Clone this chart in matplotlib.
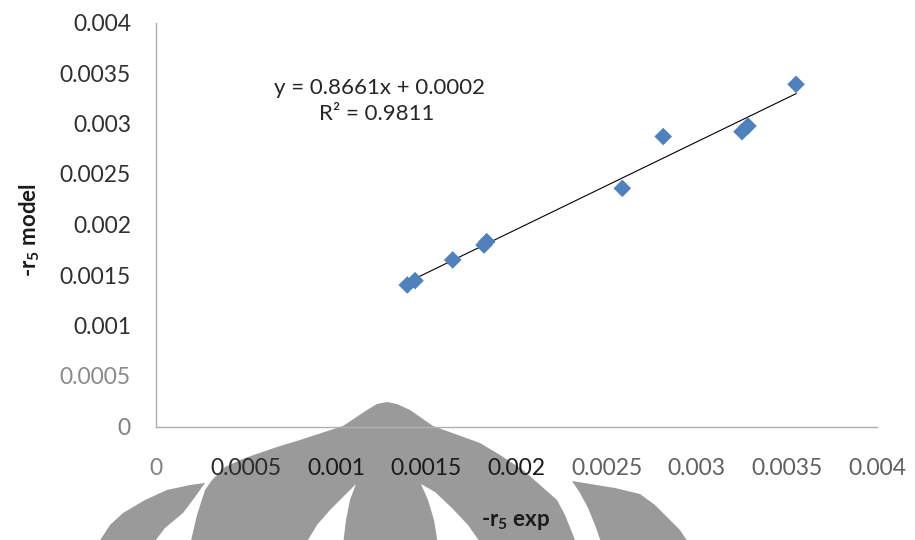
import numpy as np
import matplotlib
matplotlib.use("Agg")
import matplotlib.pyplot as plt
from matplotlib.patches import Polygon

plt.rcParams["font.family"] = ["Lato", "DejaVu Sans"]
plt.rcParams["mathtext.fontset"] = "custom"
plt.rcParams["mathtext.rm"] = "Lato"
plt.rcParams["mathtext.bf"] = "Lato:bold"

# Experimental vs. model rate of reaction 5
r5_exp = [0.001394, 0.001437, 0.001646, 0.001820, 0.001835,
          0.002587, 0.002814, 0.003251, 0.003284, 0.003551]
r5_model = [0.001401, 0.001444, 0.001649, 0.001797, 0.001830,
            0.002358, 0.002871, 0.002919, 0.002975, 0.003388]

# Linear trendline coefficients
slope = 0.8661
intercept = 0.00022
r_squared = 0.9811

x_ticks = [0, 0.0005, 0.001, 0.0015, 0.002, 0.0025, 0.003, 0.0035, 0.004]
x_tick_labels = ["0", "0.0005", "0.001", "0.0015", "0.002",
                 "0.0025", "0.003", "0.0035", "0.004"]
y_ticks = [0, 0.0005, 0.001, 0.0015, 0.002, 0.0025, 0.003, 0.0035, 0.004]
y_tick_labels = ["0", "0.0005", "0.001", "0.0015", "0.002",
                 "0.0025", "0.003", "0.0035", "0.004"]

W, H = 915, 540
fig = plt.figure(figsize=(W / 100, H / 100), dpi=100)


def px(pts):
    return [(x / W, 1 - y / H) for x, y in pts]


# Background emblem
emblem_gray = "#9a9a9a"
dome = [(190, 545), (197, 515), (205, 490), (212, 480), (225, 467), (245, 458),
        (277, 447), (300, 440), (343, 426), (367, 410), (377, 404), (387, 402),
        (397, 404), (410, 410), (433, 426), (480, 443), (500, 455), (523, 470),
        (540, 485), (557, 500), (565, 515), (577, 545)]
left_petal = [(97, 545), (110, 525), (123, 513), (145, 500), (167, 490),
              (190, 485), (205, 483), (195, 497), (183, 513), (165, 528), (152, 545)]
right_petal = [(572, 481), (590, 484), (615, 488), (640, 494), (655, 505),
               (667, 517), (680, 530), (690, 545), (602, 545), (595, 525),
               (588, 508), (580, 493)]
left_gap = [(356, 484), (345, 495), (330, 510), (317, 525), (305, 545),
            (343, 545), (346, 520), (350, 500)]
right_gap = [(421, 484), (428, 500), (434, 520), (438, 545), (482, 545),
             (468, 525), (452, 508), (435, 492)]
for shape in (dome, left_petal, right_petal):
    fig.add_artist(Polygon(px(shape), closed=True, transform=fig.transFigure,
                           facecolor=emblem_gray, edgecolor="none", zorder=-2))
for shape in (left_gap, right_gap):
    fig.add_artist(Polygon(px(shape), closed=True, transform=fig.transFigure,
                           facecolor="white", edgecolor="none", zorder=-1))

ax = fig.add_axes([156 / W, 1 - 426.5 / H, (877 - 156) / W, (426.5 - 22.5) / H])
ax.patch.set_alpha(0)

ax.scatter(r5_exp, r5_model, marker="D", s=80, color="#4F81BD",
           edgecolors="none", zorder=3)

x_fit = np.array([min(r5_exp), max(r5_exp)])
ax.plot(x_fit, slope * x_fit + intercept, color="black", lw=0.8, zorder=2)

ax.set_xlim(0, 0.004)
ax.set_ylim(0, 0.004)
ax.set_xticks(x_ticks, x_tick_labels)
ax.set_yticks(y_ticks, y_tick_labels)
ax.tick_params(axis="both", length=0, labelsize=16.5)
ax.tick_params(axis="x", pad=23)
ax.tick_params(axis="y", pad=18)

x_label_colors = ["#808080", "#2a2a2a", "#1a1a1a", "#1a1a1a", "#1a1a1a",
                  "#606060", "#606060", "#606060", "#606060"]
y_label_colors = ["#808080", "#8a8a8a", "#303030", "#303030", "#303030",
                  "#303030", "#303030", "#303030", "#303030"]
for lbl, c in zip(ax.get_xticklabels(), x_label_colors):
    lbl.set_color(c)
for lbl, c in zip(ax.get_yticklabels(), y_label_colors):
    lbl.set_color(c)

for side in ("top", "right"):
    ax.spines[side].set_visible(False)
for side in ("left", "bottom"):
    ax.spines[side].set_color("#b0b0b0")
    ax.spines[side].set_linewidth(1.0)

fig.text(516 / W, 1 - 522 / H, r"-r$_{\mathbf{5}}$ exp", ha="center", va="center",
         fontsize=16, fontweight="bold", color="#1a1a1a")
fig.text(30 / W, 1 - 230 / H, r"-r$_{\mathbf{5}}$ model", ha="center", va="center",
         rotation=90, fontsize=16, fontweight="bold", color="#1a1a1a")

fig.text(380 / W, 1 - 88 / H, f"y = {slope:.4f}x + {intercept:.4f}",
         ha="center", va="center", fontsize=16, color="#262626")
fig.text(377 / W, 1 - 114 / H, f"R\u00b2 = {r_squared:.4f}",
         ha="center", va="center", fontsize=16, color="#262626")

fig.savefig("out.png", dpi=100)
